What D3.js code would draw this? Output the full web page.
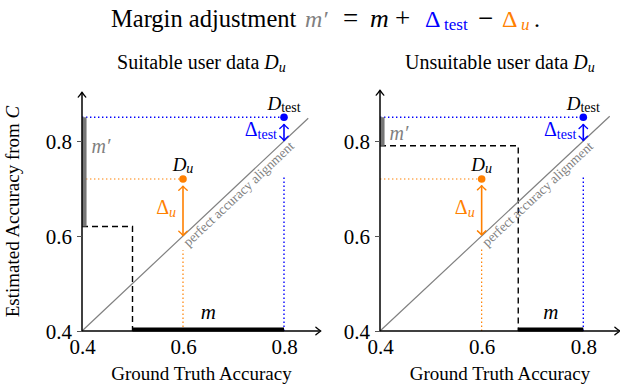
<!DOCTYPE html>
<html><head><meta charset="utf-8">
<script src="https://cdn.jsdelivr.net/npm/d3@7"></script>
<style>
body{margin:0;background:#fff}
svg{display:block}
</style>
</head><body><svg id="c" width="620" height="386"></svg>
<script>
// ---------- data ----------
const panelTitles = ["Suitable user data", "Unsuitable user data"];
const tickValues = [0.4, 0.6, 0.8];
const tickLabels = ["0.4", "0.6", "0.8"];
const dTestX = [0.8, 0.8];
const dTestY = [0.85, 0.85];
const dUX = [0.6, 0.6];
const dUY = [0.72, 0.72];
const thresholdX = [0.5, 0.672];
const thresholdY = [0.62, 0.79];
const diagonalEnd = [0.848, 0.852];
const deltaUTop = [0.705, 0.706];
const deltaUBottom = [0.601, 0.602];
const deltaTestTop = [0.835, 0.835];
const deltaTestBottom = [0.801, 0.801];
const blueGuideTop = [0.725, 0.725];
const orangeGuideTop = [0.57, 0.573];
const xAxisEnd = [0.873, 0.872];
const yAxisEnd = [0.903, 0.907];
const mPrimeLabelY = [0.775, 0.802];

// ---------- layout ----------
const SERIF = "'Liberation Serif', 'Times New Roman', Times, serif";
const svg = d3.select("#c");
const BLUE = "#0000ff", ORANGE = "#ff8000", GRAY = "#808080";
const xRanges = [[82, 284], [380, 583.3]];
const y = d3.scaleLinear().domain([0.4, 0.8]).range([331, 141]);

function txt(sel) { return sel.append("text").style("font-family", SERIF); }

function chevron(g, tx, ty, ux, uy, color, w, l, sw) {
  const nx = -uy, ny = ux;
  const bx = tx - l * ux, by = ty - l * uy;
  const p = `M${bx + w * nx},${by + w * ny} Q${tx - 0.35 * l * ux + 0.25 * w * nx},${ty - 0.35 * l * uy + 0.25 * w * ny} ${tx},${ty} Q${tx - 0.35 * l * ux - 0.25 * w * nx},${ty - 0.35 * l * uy - 0.25 * w * ny} ${bx - w * nx},${by - w * ny}`;
  g.append("path").attr("d", p).attr("fill", "none").attr("stroke", color)
    .attr("stroke-width", sw).attr("stroke-linecap", "round").attr("stroke-linejoin", "round");
}

function doubleArrow(g, x, y1, y2, color) {
  g.append("line").attr("x1", x).attr("x2", x).attr("y1", y1).attr("y2", y2)
    .attr("stroke", color).attr("stroke-width", 1.6);
  chevron(g, x, y1, 0, -1, color, 4.2, 4.2, 1.4);
  chevron(g, x, y2, 0, 1, color, 4.2, 4.2, 1.4);
}

// title
const title = txt(svg).attr("y", 27).style("font-size", "24px").attr("fill", "#000");
title.append("tspan").attr("x", 111).style("font-size", "24.5px").text("Margin adjustment");
title.append("tspan").attr("x", 305).attr("fill", GRAY).style("font-style", "italic").text("m′");
title.append("tspan").attr("x", 343).style("font-size", "27px").text("=");
title.append("tspan").attr("x", 370).style("font-style", "italic").style("font-size", "26px").text("m");
title.append("tspan").attr("x", 395).style("font-size", "27px").text("+");
title.append("tspan").attr("x", 425).attr("fill", BLUE).text("Δ");
title.append("tspan").attr("x", 444).attr("fill", BLUE).style("font-size", "17px").attr("dy", 3).text("test");
title.append("tspan").attr("x", 478).attr("dy", -3).style("font-size", "27px").text("−");
title.append("tspan").attr("x", 502).attr("fill", ORANGE).text("Δ");
title.append("tspan").attr("x", 521).attr("fill", ORANGE).style("font-style", "italic").style("font-size", "17px").attr("dy", 3).text("u");
title.append("tspan").attr("x", 534).attr("dy", -3).text(".");

// y-axis title
const yt = txt(svg).attr("transform", "translate(18.5,211.5) rotate(-90)")
  .attr("text-anchor", "middle").style("font-size", "19px");
yt.append("tspan").text("Estimated Accuracy from ");
yt.append("tspan").style("font-style", "italic").text("C");

panelTitles.forEach((pt, i) => {
  const x = d3.scaleLinear().domain([0.4, 0.8]).range(xRanges[i]);
  const g = svg.append("g");
  const x0 = x(0.4), y0 = y(0.4);

  // subtitle
  const st = txt(g).attr("x", (x0 + x(xAxisEnd[i])) / 2).attr("y", 69)
    .attr("text-anchor", "middle").style("font-size", "20px");
  st.append("tspan").text(pt + " ");
  st.append("tspan").style("font-style", "italic").text("D");
  st.append("tspan").style("font-style", "italic").style("font-size", "14px").attr("dy", 3).text("u");

  // guides (dotted)
  const dotted = (x1, y1, x2, y2, c, sw) => g.append("line")
    .attr("x1", x1).attr("y1", y1).attr("x2", x2).attr("y2", y2)
    .attr("stroke", c).attr("stroke-width", sw).attr("stroke-dasharray", "1.4,2.6");
  dotted(x0, y(dTestY[i]), x(dTestX[i]), y(dTestY[i]), BLUE, 1.4);
  dotted(x(dTestX[i]), y0, x(dTestX[i]), y(blueGuideTop[i]), BLUE, 1.4);
  dotted(x0, y(dUY[i]), x(dUX[i]), y(dUY[i]), ORANGE, 1.2);
  dotted(x(dUX[i]), y0, x(dUX[i]), y(orangeGuideTop[i]), ORANGE, 1.2);

  // threshold dashed
  g.append("path")
    .attr("d", d3.line()([[x0, y(thresholdY[i])], [x(thresholdX[i]), y(thresholdY[i])], [x(thresholdX[i]), y0]]))
    .attr("fill", "none").attr("stroke", "#000").attr("stroke-width", 1.4).attr("stroke-dasharray", "6,4");

  // diagonal
  g.append("line").attr("x1", x0).attr("y1", y0).attr("x2", x(diagonalEnd[i])).attr("y2", y(diagonalEnd[i]))
    .attr("stroke", GRAY).attr("stroke-width", 1.2);
  const ang = Math.atan2(y0 - y(diagonalEnd[i]), x(diagonalEnd[i]) - x0) * 180 / Math.PI;
  txt(g).attr("transform", `translate(${x(0.7)},${y(0.7)}) rotate(${-ang})`)
    .attr("text-anchor", "middle").attr("dy", 12).style("font-size", "13.5px").attr("fill", GRAY)
    .text("perfect accuracy alignment");

  // m' bar
  g.append("line").attr("x1", x0 + 2.3).attr("x2", x0 + 2.3).attr("y1", y(thresholdY[i])).attr("y2", y(dTestY[i]))
    .attr("stroke", "#777").attr("stroke-width", 4.5);
  // m bar
  g.append("line").attr("x1", x(thresholdX[i])).attr("x2", x(dTestX[i])).attr("y1", y0 - 1.6).attr("y2", y0 - 1.6)
    .attr("stroke", "#000").attr("stroke-width", 4);

  // axes
  g.append("line").attr("x1", x0).attr("x2", x(xAxisEnd[i]) - 1).attr("y1", y0).attr("y2", y0)
    .attr("stroke", "#000").attr("stroke-width", 1.5);
  chevron(g, x(xAxisEnd[i]), y0, 1, 0, "#000", 3.8, 5, 1.3);
  g.append("line").attr("x1", x0).attr("x2", x0).attr("y1", y0).attr("y2", y(yAxisEnd[i]) + 1)
    .attr("stroke", "#000").attr("stroke-width", 1.5);
  chevron(g, x0, y(yAxisEnd[i]), 0, -1, "#000", 3.8, 5, 1.3);

  // ticks
  const ya = d3.axisLeft(y).tickValues(tickValues).tickFormat((d, k) => tickLabels[k]).tickSize(5).tickPadding(5);
  const yg = g.append("g").attr("transform", `translate(${x0},0)`).call(ya);
  yg.select(".domain").remove();
  yg.selectAll(".tick line").attr("stroke", "#555");
  yg.selectAll(".tick text").style("font-size", "21px").style("font-family", SERIF).attr("fill", "#000").attr("dy", "0.35em");
  const xa = d3.axisBottom(x).tickValues(tickValues).tickFormat((d, k) => tickLabels[k]).tickSize(0).tickPadding(6);
  const xg = g.append("g").attr("transform", `translate(0,${y0})`).call(xa);
  xg.select(".domain").remove();
  xg.selectAll(".tick text").style("font-size", "21px").style("font-family", SERIF).attr("fill", "#000").attr("dy", "0.8em");

  // x title
  txt(g).attr("x", (x0 + x(xAxisEnd[i])) / 2).attr("y", 380).attr("text-anchor", "middle")
    .style("font-size", "19px").text("Ground Truth Accuracy");

  // labels m, m'
  txt(g).attr("x", x((thresholdX[i] + dTestX[i]) / 2)).attr("y", y0 - 12).attr("text-anchor", "middle")
    .style("font-size", "21px").style("font-style", "italic").text("m");
  txt(g).attr("x", x0 + 9.5).attr("y", y(mPrimeLabelY[i])).style("font-size", "20px")
    .style("font-style", "italic").attr("fill", GRAY).text("m′");

  // arrows
  doubleArrow(g, x(dUX[i]), y(deltaUTop[i]), y(deltaUBottom[i]), ORANGE);
  doubleArrow(g, x(dTestX[i]), y(deltaTestTop[i]), y(deltaTestBottom[i]), BLUE);

  // arrow labels
  const du = txt(g).attr("x", x(dUX[i]) - 7).attr("y", (y(dUY[i]) + y(dUX[i])) / 2 + 6.5)
    .attr("text-anchor", "end").style("font-size", "20px").attr("fill", ORANGE);
  du.append("tspan").text("Δ");
  du.append("tspan").style("font-style", "italic").style("font-size", "14px").attr("dy", 3).text("u");
  const dt = txt(g).attr("x", x(dTestX[i]) - 7).attr("y", (y(dTestY[i]) + y(dTestX[i])) / 2 + 6.5)
    .attr("text-anchor", "end").style("font-size", "20px").attr("fill", BLUE);
  dt.append("tspan").text("Δ");
  dt.append("tspan").style("font-size", "14px").attr("dy", 3).text("test");

  // points
  g.append("circle").attr("cx", x(dTestX[i])).attr("cy", y(dTestY[i])).attr("r", 3.8).attr("fill", BLUE);
  g.append("circle").attr("cx", x(dUX[i])).attr("cy", y(dUY[i])).attr("r", 3.8).attr("fill", ORANGE);

  // point labels
  const lt = txt(g).attr("x", x(dTestX[i])).attr("y", y(dTestY[i]) - 7.5)
    .attr("text-anchor", "middle").style("font-size", "19px");
  lt.append("tspan").style("font-style", "italic").text("D");
  lt.append("tspan").style("font-size", "14px").attr("dy", 2).text("test");
  const lu = txt(g).attr("x", x(dUX[i])).attr("y", y(dUY[i]) - 8.5)
    .attr("text-anchor", "middle").style("font-size", "19px");
  lu.append("tspan").style("font-style", "italic").text("D");
  lu.append("tspan").style("font-style", "italic").style("font-size", "14px").attr("dy", 2).text("u");
});
</script>
</body></html>
